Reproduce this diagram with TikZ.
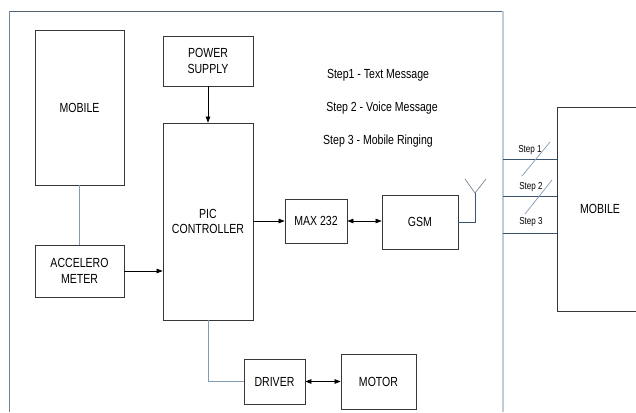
\documentclass[tikz,border=0pt]{standalone}
\usepackage{fontspec}
\setmainfont{Liberation Sans}[FakeStretch=0.8]
\definecolor{boxline}{RGB}{55, 55, 55}
\definecolor{wire}{RGB}{130, 155, 180}
\definecolor{darkwire}{RGB}{60, 85, 110}
\definecolor{frameline}{RGB}{80, 100, 118}
\definecolor{frameright}{RGB}{190, 204, 218}
\usetikzlibrary{shapes, arrows.meta, positioning, calc}

\begin{document}
\begin{tikzpicture}[
                x=0.04cm, y=-0.04cm,
                every node/.style={align=center, font=\fontsize{15}{18}\selectfont},
                blk/.style={rectangle, draw=boxline, thick, fill=white, inner sep=0pt},
                link/.style={-{Triangle[length=2.4mm, width=1.8mm]}, thick, black},
                duplex/.style={{Triangle[length=2.4mm, width=1.8mm]}-{Triangle[length=2.4mm, width=1.8mm]}, thick, black},
                tap/.style={wire, thick},
                steplbl/.style={font=\fontsize{11.5}{13}\selectfont}
            ]
                \useasboundingbox (0,0) rectangle (636,412);
                \clip (0,0) rectangle (636,412);
                \fill[white] (0,0) rectangle (636,412);

                \coordinate (fnw) at (9,11);
                \coordinate (fne) at (503,11);
                \draw[frameline, thick] (fnw) -- (fne);
                \draw[frameline!80, thick] (fnw) -- (9,412);
                \draw[frameright, line width=1.6pt] (fne) -- (503,412);

                \node[blk, minimum width=3.56cm, minimum height=6.2cm] (mobL) at (79.5,107.5) {MOBILE};
                \node[blk, minimum width=3.56cm, minimum height=2.08cm] (accel) at (79.5,271) {ACCELERO\\METER};
                \node[blk, minimum width=3.6cm, minimum height=2.0cm] (power) at (208,61) {POWER\\SUPPLY};
                \node[blk, minimum width=3.6cm, minimum height=7.88cm] (pic) at (208,221.5) {PIC\\CONTROLLER};
                \node[blk, minimum width=2.48cm, minimum height=1.76cm] (max) at (316,221) {MAX 232};
                \node[blk, minimum width=3.04cm, minimum height=2.16cm] (gsm) at (420,222) {GSM};
                \node[blk, minimum width=2.44cm, minimum height=1.8cm] (driver) at (274.5,381.5) {DRIVER};
                \node[blk, minimum width=3.0cm, minimum height=2.2cm] (motor) at (378.5,381.5) {MOTOR};
                \node[blk, minimum width=3.44cm, minimum height=8.16cm] (mobR) at (600,209) {MOBILE};

                \node (t1) at (378,75) {Step1 - Text Message};
                \node (t2) at (382,108) {Step 2 - Voice Message};
                \node (t3) at (378,141) {Step 3 - Mobile Ringing};

                \draw[tap] (mobL.south) -- (accel.north);
                \draw[link] (power.south) -- (pic.north);
                \draw[link] (accel.east) -- (accel.east -| pic.west);
                \draw[link] (pic.east |- max.west) -- (max.west);
                \draw[duplex] (max.east) -- (max.east -| gsm.west);
                \draw[tap] (pic.south) |- (driver.west);
                \draw[duplex] (driver.east) -- (driver.east -| motor.west);

                \coordinate (ant) at (475,193);
                \draw[darkwire, thick] (gsm.east) -| (ant);
                \draw[darkwire!70, thick] (465,179) -- (ant) -- (486,179);

                \foreach \y/\n in {159/1, 196/2, 233/3}
                    \draw[darkwire, thick] (503,\y) coordinate (s\n) -- (s\n -| mobR.west);
                \draw[wire, thick] (522,176) -- (550,142);
                \draw[wire, thick] (525,214) -- (552,180);
                \node[steplbl] (l1) at (530,150) {Step 1};
                \node[steplbl] (l2) at (531,187) {Step 2};
                \node[steplbl] (l3) at (531,222) {Step 3};
            \end{tikzpicture}
\end{document}
